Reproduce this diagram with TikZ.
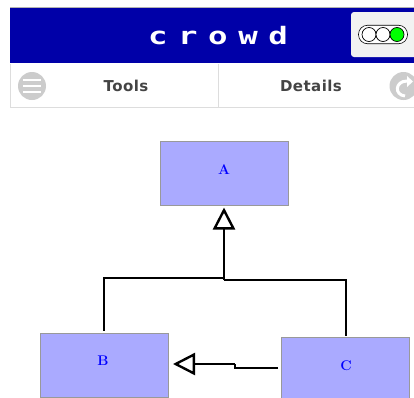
\documentclass[tikz,border=0pt]{standalone}
\usepackage{fontspec}
\setsansfont{DejaVu Sans}
\newfontfamily\logofont[FakeStretch=1.35,LetterSpace=44]{DejaVu Sans Mono Bold}
\newfontfamily\navfont[LetterSpace=3]{DejaVu Sans Bold}
\usetikzlibrary{arrows.meta}
\definecolor{headerblue}{HTML}{0000A8}
\definecolor{boxblue}{HTML}{AAAAFF}
\definecolor{navtext}{HTML}{444444}
\definecolor{navline}{HTML}{DDDDDD}
\definecolor{icongray}{HTML}{CCCCCC}
\definecolor{panelgray}{HTML}{F2F2F2}
\tikzset{
  classbox/.style={draw=gray!80, line width=1pt, fill=boxblue, minimum width=128pt, minimum height=64pt, inner sep=0pt},
  classlabel/.style={text=blue, font=\rmfamily\bfseries\fontsize{14}{16}\selectfont},
  navlabel/.style={text=navtext, font=\navfont\fontsize{15}{17}\selectfont},
  navicon/.style={circle, fill=icongray, minimum size=28pt, inner sep=0pt},
  lamp/.style={circle, draw=black, fill=white, line width=0.7pt, minimum size=14pt, inner sep=0pt},
  link/.style={draw=black, line width=2pt},
  inherit/.style={link, -{Triangle[open, length=22pt, width=22pt, line width=2.4pt]}, shorten >=2pt}
}
\begin{document}
\begin{tikzpicture}[x=1pt, y=-1pt]
\clip (0,0) rectangle (414,397);
\fill[white] (0,0) rectangle (414,397);

% header
\fill[headerblue] (10,7) rectangle (414,63);
\draw[gray!60, line width=0.7pt] (10,7) -- (414,7);
\node[text=white, font=\logofont\fontsize{24}{26}\selectfont] (title) at (218,36) {crowd};
\fill[panelgray, rounded corners=3pt] (351,12) rectangle (420,57);

% traffic light
\node[draw=black, line width=0.6pt, fill=white, rounded corners=9pt, minimum width=49pt, minimum height=18.5pt, inner sep=0pt] (light) at (383,34.5) {};
\node[lamp] (l1) at (369,34.5) {};
\node[lamp] (l2) at (383,34.5) {};
\node[lamp, fill=green] (l3) at (397,34.5) {};

% nav bar
\draw[navline, line width=1pt] (10.5,64) -- (10.5,107.5) -- (414,107.5);
\draw[navline, line width=1pt] (218.5,64) -- (218.5,107.5);
\node[navicon] (menu) at (32,86) {};
\foreach \y in {80,86,92}
  \draw[white, line width=2.5pt] (23,\y) -- (41,\y);
\node[navicon] (back) at (403.5,86) {};
\draw[white, line width=3pt] (405,96) .. controls (394,95) and (395,81) .. (407,81);
\fill[white] (407,76) -- (413,81.5) -- (407,87) -- cycle;
\node[navlabel] (tools) at (126,86) {Tools};
\node[navlabel] (details) at (311,86) {Details};

% classes
\node[classbox] (a) at (224,173) {};
\node[classbox] (b) at (104,365) {};
\node[classbox] (c) at (345.5,369) {};
\node[classlabel] (alabel) at (224,170) {A};
\node[classlabel] (blabel) at (103,361) {B};
\node[classlabel] (clabel) at (346,366) {C};

\coordinate (bjoin) at (224,278);
\coordinate (cjoin) at (224,280);
\coordinate (cstep) at (235,368);
\coordinate (bstep) at (235,364);
\coordinate (btip) at (173,364);

\draw[link, shorten <=2pt] (b.north) |- (bjoin);
\draw[link, shorten <=1pt] (c.north) |- (cjoin);
\draw[inherit] (cjoin) -- (a.south);
\draw[link] (c.west |- cstep) ++(-3,0) -- (cstep) -- (bstep);
\draw[inherit, shorten >=0pt] (bstep) -- (btip);
\end{tikzpicture}
\end{document}
